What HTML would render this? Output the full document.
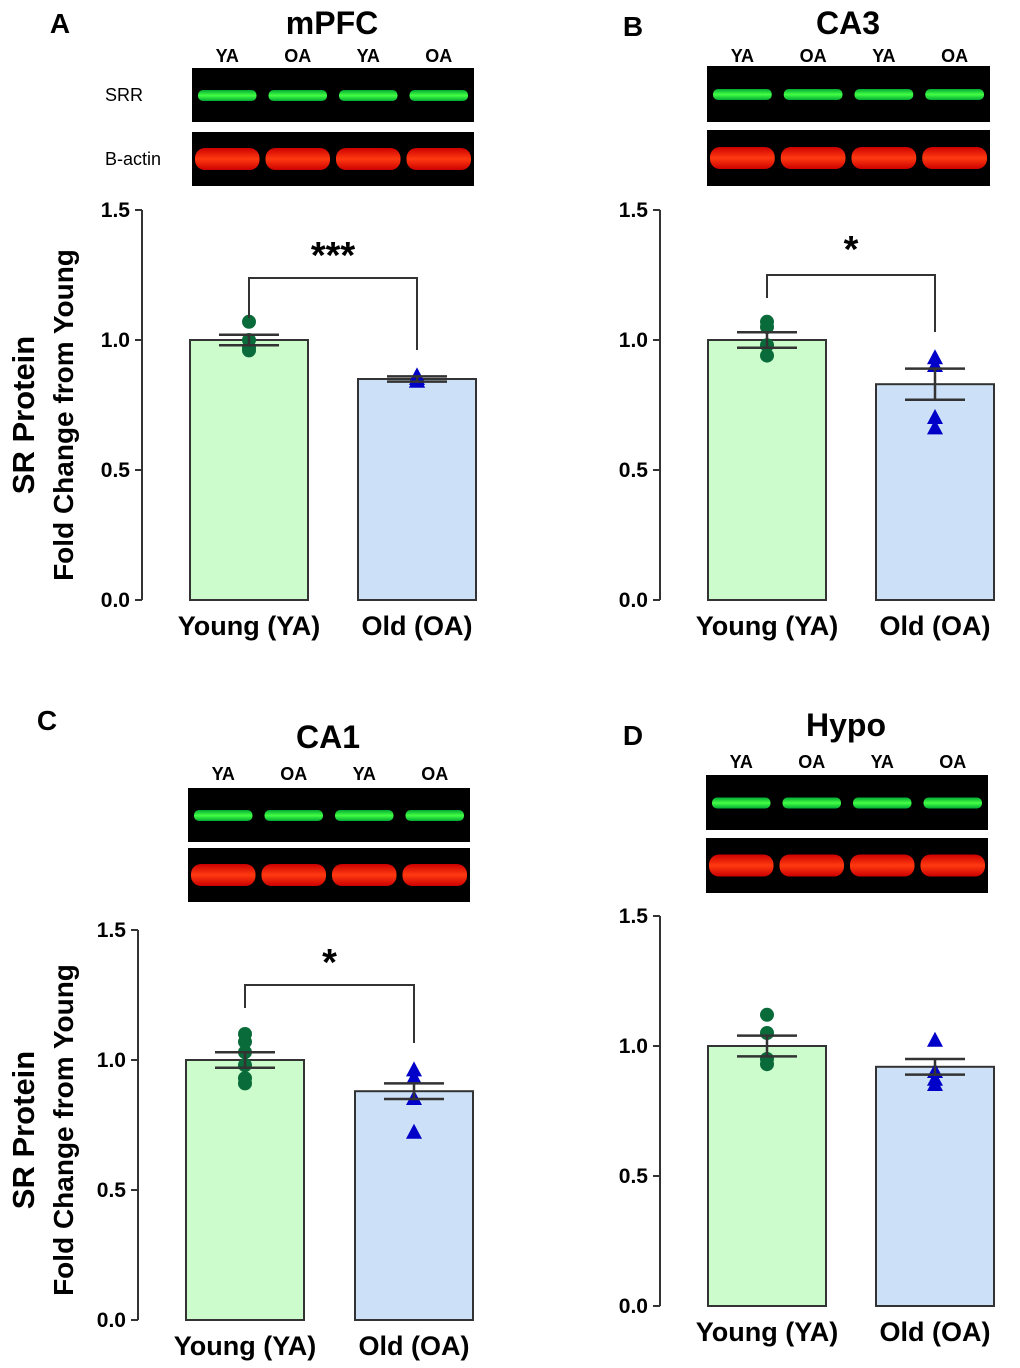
<!DOCTYPE html>
<html><head><meta charset="utf-8"><style>
body{margin:0;background:#fff}
svg{display:block;font-family:"Liberation Sans",Arial,sans-serif}
</style></head><body>
<svg id="fig" width="1020" height="1368" viewBox="0 0 1020 1368" xmlns="http://www.w3.org/2000/svg">
<defs>
<linearGradient id="gg" x1="0" y1="0" x2="0" y2="1"><stop offset="0" stop-color="#0a3"/><stop offset="0.5" stop-color="#4f4"/><stop offset="1" stop-color="#0a3"/></linearGradient>
<linearGradient id="rg" x1="0" y1="0" x2="0" y2="1"><stop offset="0" stop-color="#c00"/><stop offset="0.5" stop-color="#ff3a10"/><stop offset="1" stop-color="#c00"/></linearGradient>
</defs>
</svg>
<script>
const categories=["Young (YA)","Old (OA)"];
const panelTitles=["mPFC","CA3","CA1","Hypo"];
const panelLetters=["A","B","C","D"];
const yTicks=[0.0,0.5,1.0,1.5];
const tickLabels=["0.0","0.5","1.0","1.5"];
const meanYoung=[1.0,1.0,1.0,1.0];
const meanOld=[0.85,0.83,0.88,0.92];
const semYoung=[0.02,0.03,0.03,0.04];
const semOld=[0.01,0.06,0.03,0.03];
const ptsYoungA=[1.07,1.0,0.97,0.96];
const ptsOldA=[0.86,0.85,0.84,0.84];
const ptsYoungB=[1.07,1.05,0.98,0.94];
const ptsOldB=[0.93,0.90,0.70,0.66];
const ptsYoungC=[1.10,1.07,1.03,0.98,0.93,0.91];
const ptsOldC=[0.96,0.93,0.85,0.72];
const ptsYoungD=[1.12,1.05,0.95,0.93];
const ptsOldD=[1.02,0.90,0.87,0.85];
const sigLabels=["***","*","*",""];
const laneLabels=["YA","OA","YA","OA"];

const NS="http://www.w3.org/2000/svg";
const svg=document.getElementById("fig");
function mk(tag,attrs,parent){const e=document.createElementNS(NS,tag);for(const k in attrs)e.setAttribute(k,attrs[k]);(parent||svg).appendChild(e);return e;}

const layout=[
 {ax:142,y0:600,bx:[190,358],blot:[192,68,282],bH:54,g2:132,lblY:62,title:[332,34],letter:[60,33],bracket:[318,278,350],star:268,ylab:415},
 {ax:660,y0:600,bx:[708,876],blot:[707,66,283],bH:56,g2:130,lblY:62,title:[848,34],letter:[633,36],bracket:[298,275,332],star:262,ylab:null},
 {ax:138,y0:1320,bx:[186,355],blot:[188,788,282],bH:54,g2:848,lblY:780,title:[328,748],letter:[47,730],bracket:[1008,985,1043],star:975,ylab:1130},
 {ax:660,y0:1306,bx:[708,876],blot:[706,775,282],bH:55,g2:838,lblY:768,title:[846,736],letter:[633,745],bracket:null,star:0,ylab:null}
];
const ptsY=[ptsYoungA,ptsYoungB,ptsYoungC,ptsYoungD];
const ptsO=[ptsOldA,ptsOldB,ptsOldC,ptsOldD];
const bw=118, scale=260;

layout.forEach((L,i)=>{
 const g=mk("g",{});
 
 
 const y=v=>L.y0-v*scale;
 let t=mk("text",{x:L.letter[0],y:L.letter[1],"font-size":28,"font-weight":"bold","text-anchor":"middle"},g);t.textContent=panelLetters[i];
 
 t=mk("text",{x:L.title[0],y:L.title[1],"font-size":32,"font-weight":"bold","text-anchor":"middle"},g);t.textContent=panelTitles[i];
 
 const [bx,by,bwid]=L.blot;
 const lane=bwid/4;
 laneLabels.forEach((s,j)=>{const e=mk("text",{x:bx+lane*(j+0.5),y:L.lblY,"font-size":18,"font-weight":"bold","text-anchor":"middle"},g);e.textContent=s;
  });
 const b1=mk("rect",{x:bx,y:by,width:bwid,height:L.bH,fill:"#000"},g);
 
 const b2=mk("rect",{x:bx,y:L.g2,width:bwid,height:L.bH,fill:"#000"},g);
 
 for(let j=0;j<4;j++){
  mk("rect",{x:bx+lane*j+6,y:by+L.bH/2-5,width:lane-12,height:11,rx:5,fill:"url(#gg)"},g);
  mk("rect",{x:bx+lane*j+3,y:L.g2+L.bH/2-11,width:lane-6,height:22,rx:10,fill:"url(#rg)"},g);
 }
 if(i===0){
  t=mk("text",{x:105,y:by+L.bH/2+6,"font-size":18},g);t.textContent="SRR";
  t=mk("text",{x:105,y:L.g2+L.bH/2+6,"font-size":18},g);t.textContent="B-actin";
 }
 const axl=mk("line",{x1:L.ax,y1:y(1.5),x2:L.ax,y2:L.y0,stroke:"#333","stroke-width":2},g);
 
 yTicks.forEach((v,j)=>{mk("line",{x1:L.ax-7,y1:y(v),x2:L.ax,y2:y(v),stroke:"#333","stroke-width":2},g);
  const e=mk("text",{x:L.ax-12,y:y(v)+7,"font-size":21,"font-weight":"bold","text-anchor":"end"},g);e.textContent=tickLabels[j];
  });
 if(L.ylab){
  t=mk("text",{transform:`translate(34,${L.ylab}) rotate(-90)`,"font-size":31,"font-weight":"bold","text-anchor":"middle"},g);t.textContent="SR Protein";
  
  t=mk("text",{transform:`translate(73,${L.ylab}) rotate(-90)`,"font-size":28,"font-weight":"bold","text-anchor":"middle"},g);t.textContent="Fold Change from Young";
  
 }
 const means=[meanYoung[i],meanOld[i]],sems=[semYoung[i],semOld[i]],pts=[ptsY[i],ptsO[i]];
 const fills=["#ccfccc","#cce0f8"];
 [0,1].forEach(k=>{
  const x0=L.bx[k],cx=x0+bw/2;
  const r=mk("rect",{x:x0,y:y(means[k]),width:bw,height:means[k]*scale,fill:fills[k],stroke:"#333","stroke-width":2},g);
  
  const e=mk("text",{x:cx,y:L.y0+35,"font-size":27,"font-weight":"bold","text-anchor":"middle"},g);e.textContent=categories[k];
  
  pts[k].forEach(v=>{
   let m;
   if(k===0) m=mk("circle",{cx:cx,cy:y(v),r:7,fill:"#0a6b3a"},g);
   else m=mk("polygon",{points:`${cx},${y(v)-9} ${cx-8},${y(v)+6} ${cx+8},${y(v)+6}`,fill:"#0000c8"},g);
   
  });
  const eb=mk("path",{d:`M${cx-30},${y(means[k]+sems[k])}H${cx+30}M${cx-30},${y(means[k]-sems[k])}H${cx+30}M${cx},${y(means[k]+sems[k])}V${y(means[k]-sems[k])}`,stroke:"#333","stroke-width":2.5,fill:"none"},g);
  
 });
 if(L.bracket){
  const c0=L.bx[0]+bw/2,c1=L.bx[1]+bw/2,[a,top,b]=L.bracket;
  const br=mk("path",{d:`M${c0},${a}V${top}H${c1}V${b}`,stroke:"#333","stroke-width":2,fill:"none"},g);
  
  const s=mk("text",{x:(c0+c1)/2,y:L.star,"font-size":38,"font-weight":"bold","text-anchor":"middle"},g);s.textContent=sigLabels[i];
  
 }
});
</script>
</body></html>
